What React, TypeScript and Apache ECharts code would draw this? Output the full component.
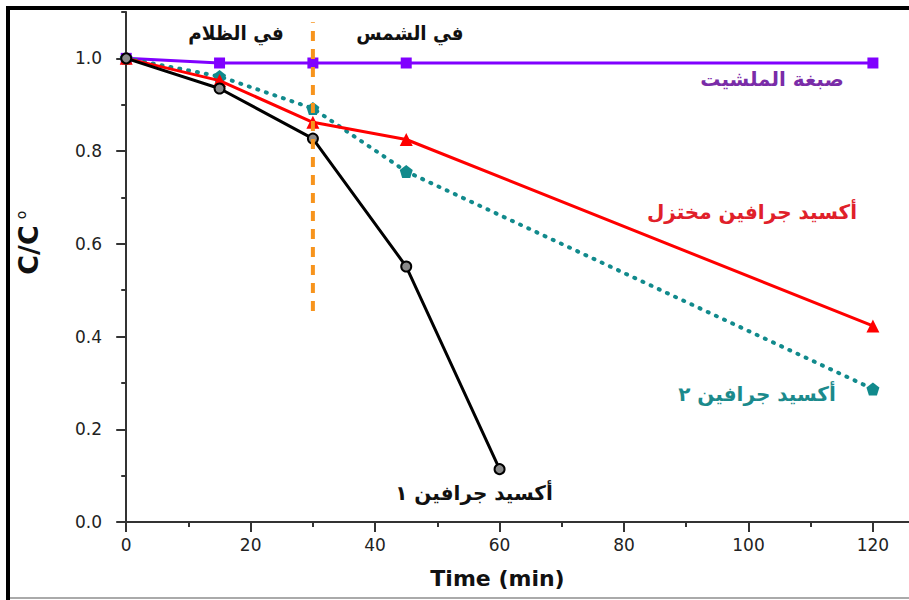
import React, { useEffect, useRef } from "react";
import * as echarts from "echarts";

// ---- data ----
const timeDye = [0, 15, 30, 45, 120];
const dyeValues = [1.0, 0.99, 0.99, 0.99, 0.99];

const timeGO1 = [0, 15, 30, 45, 60];
const go1Values = [1.0, 0.935, 0.827, 0.551, 0.114];

const timeRGO = [0, 15, 30, 45, 120];
const rgoValues = [1.0, 0.952, 0.862, 0.825, 0.423];

const timeGO2 = [0, 15, 30, 45, 120];
const go2Values = [1.0, 0.961, 0.892, 0.756, 0.287];

const switchTime = [30, 30];
const switchValues = [0.455, 1.078];

const xMajorTicks = [0, 20, 40, 60, 80, 100, 120];
const xMinorTicks = [10, 30, 50, 70, 90, 110];
const yMajorTicks = [0, 0.2, 0.4, 0.6, 0.8, 1.0];
const yMinorTicks = [0.1, 0.3, 0.5, 0.7, 0.9, 1.1];

const labelDark = "في الظلام";
const labelSun = "في الشمس";
const labelDye = "صبغة الملشيت";
const labelRGO = "أكسيد جرافين مختزل";
const labelGO2 = "أكسيد جرافين ٢";
const labelGO1 = "أكسيد جرافين ١";

const pair = (xs: number[], ys: number[]) => xs.map((x, i) => [x, ys[i]]);

const pentagon =
  "path://M0,-10 L9.51,-3.09 L5.88,8.09 L-5.88,8.09 L-9.51,-3.09 Z";

export default function App() {
  const ref = useRef<HTMLDivElement>(null);
  useEffect(() => {
    const chart = echarts.init(ref.current!, null, { renderer: "svg" });
    const axisColor = "#333";
    const tickFont = {
      fontFamily: "DejaVu Sans",
      fontSize: 17,
      color: "#222",
    };
    const arabic = (
      text: string,
      x: number,
      y: number,
      color: string,
      scaleX = 1
    ) => ({
      type: "text",
      x,
      y,
      scaleX,
      style: {
        text,
        fill: color,
        font: "bold 20px 'DejaVu Sans'",
        align: "center",
        verticalAlign: "middle",
      },
      z: 100,
    });
    chart.setOption({
      animation: false,
      backgroundColor: "#fff",
      grid: { left: 120, right: 0, top: 12, bottom: 78, containLabel: false },
      xAxis: [
        {
          type: "value",
          min: -1,
          max: 125.8,
          axisLine: { show: true, lineStyle: { color: axisColor, width: 2 } },
          axisTick: {
            show: true,
            length: 10,
            customValues: xMajorTicks,
            lineStyle: { color: axisColor, width: 2 },
          },
          axisLabel: { ...tickFont, margin: 14, customValues: xMajorTicks },
          splitLine: { show: false },
          name: "Time (min)",
          nameLocation: "middle",
          nameGap: 45,
          nameTextStyle: {
            fontFamily: "DejaVu Sans",
            fontWeight: "bold",
            fontSize: 22,
            color: "#111",
            padding: [0, 34, 0, 0],
          },
        },
        {
          type: "value",
          min: -1,
          max: 125.8,
          position: "bottom",
          axisLine: { show: false },
          axisTick: {
            show: true,
            length: 5,
            customValues: xMinorTicks,
            lineStyle: { color: axisColor, width: 2 },
          },
          axisLabel: { show: false },
          splitLine: { show: false },
        },
      ],
      yAxis: [
        {
          type: "value",
          min: 0,
          max: 1.1,
          axisLine: { show: true, lineStyle: { color: axisColor, width: 2 } },
          axisTick: {
            show: true,
            length: 10,
            customValues: yMajorTicks,
            lineStyle: { color: axisColor, width: 2 },
          },
          axisLabel: {
            ...tickFont,
            margin: 18,
            customValues: yMajorTicks,
            formatter: (v: number) => v.toFixed(1),
          },
          splitLine: { show: false },
        },
        {
          type: "value",
          min: 0,
          max: 1.1,
          position: "left",
          axisLine: { show: false },
          axisTick: {
            show: true,
            length: 5,
            customValues: yMinorTicks,
            lineStyle: { color: axisColor, width: 2 },
          },
          axisLabel: { show: false },
          splitLine: { show: false },
        },
      ],
      series: [
        {
          type: "line",
          data: pair(timeDye, dyeValues),
          symbol: "rect",
          symbolSize: 11,
          lineStyle: { color: "#8000ff", width: 3 },
          itemStyle: { color: "#8000ff" },
          z: 3,
        },
        {
          type: "line",
          data: pair(timeGO2, go2Values),
          symbol: pentagon,
          symbolSize: 13,
          lineStyle: { color: "#118a8c", width: 4, type: [1, 8], cap: "round" },
          itemStyle: { color: "#118a8c" },
          z: 4,
        },
        {
          type: "line",
          data: pair(timeRGO, rgoValues),
          symbol: "triangle",
          symbolSize: 13,
          lineStyle: { color: "#ff0000", width: 3 },
          itemStyle: { color: "#ff0000" },
          z: 5,
        },
        {
          type: "line",
          data: pair(timeGO1, go1Values),
          symbol: "circle",
          symbolSize: 10,
          lineStyle: { color: "#000", width: 3 },
          itemStyle: { color: "#8a8a8a", borderColor: "#000", borderWidth: 2 },
          z: 6,
        },
        {
          type: "line",
          data: pair(switchTime, switchValues),
          symbol: "none",
          lineStyle: { color: "#f7941d", width: 4, type: [10, 8] },
          z: 7,
        },
      ],
      graphic: [
        { type: "rect", shape: { x: 6, y: 6, width: 903, height: 4 }, style: { fill: "#000" }, z: 200 },
        { type: "rect", shape: { x: 6, y: 6, width: 4, height: 594 }, style: { fill: "#000" }, z: 200 },
        { type: "rect", shape: { x: 10, y: 597, width: 899, height: 2 }, style: { fill: "#aaa" }, z: 200 },
        {
          type: "text",
          x: 28,
          y: 250,
          rotation: Math.PI / 2,
          style: {
            text: "C/C",
            fill: "#111",
            font: "bold 27px 'DejaVu Sans'",
            align: "center",
            verticalAlign: "middle",
          },
          z: 100,
        },
        {
          type: "text",
          x: 21,
          y: 215,
          rotation: Math.PI / 2,
          style: {
            text: "o",
            fill: "#111",
            font: "14px 'DejaVu Sans'",
            align: "center",
            verticalAlign: "middle",
          },
          z: 100,
        },
        arabic(labelDark, 236, 33, "#111", 0.92),
        arabic(labelSun, 410, 33, "#111", 0.92),
        arabic(labelDye, 772, 79, "#7a2ca8"),
        arabic(labelRGO, 752, 212, "#e0202a"),
        arabic(labelGO2, 757, 394, "#1b8a8c"),
        arabic(labelGO1, 474, 493, "#111"),
      ],
    });
    return () => chart.dispose();
  }, []);
  return (
    <div
      ref={ref}
      style={{ position: "fixed", left: 0, top: 0, width: 909, height: 600 }}
    />
  );
}
